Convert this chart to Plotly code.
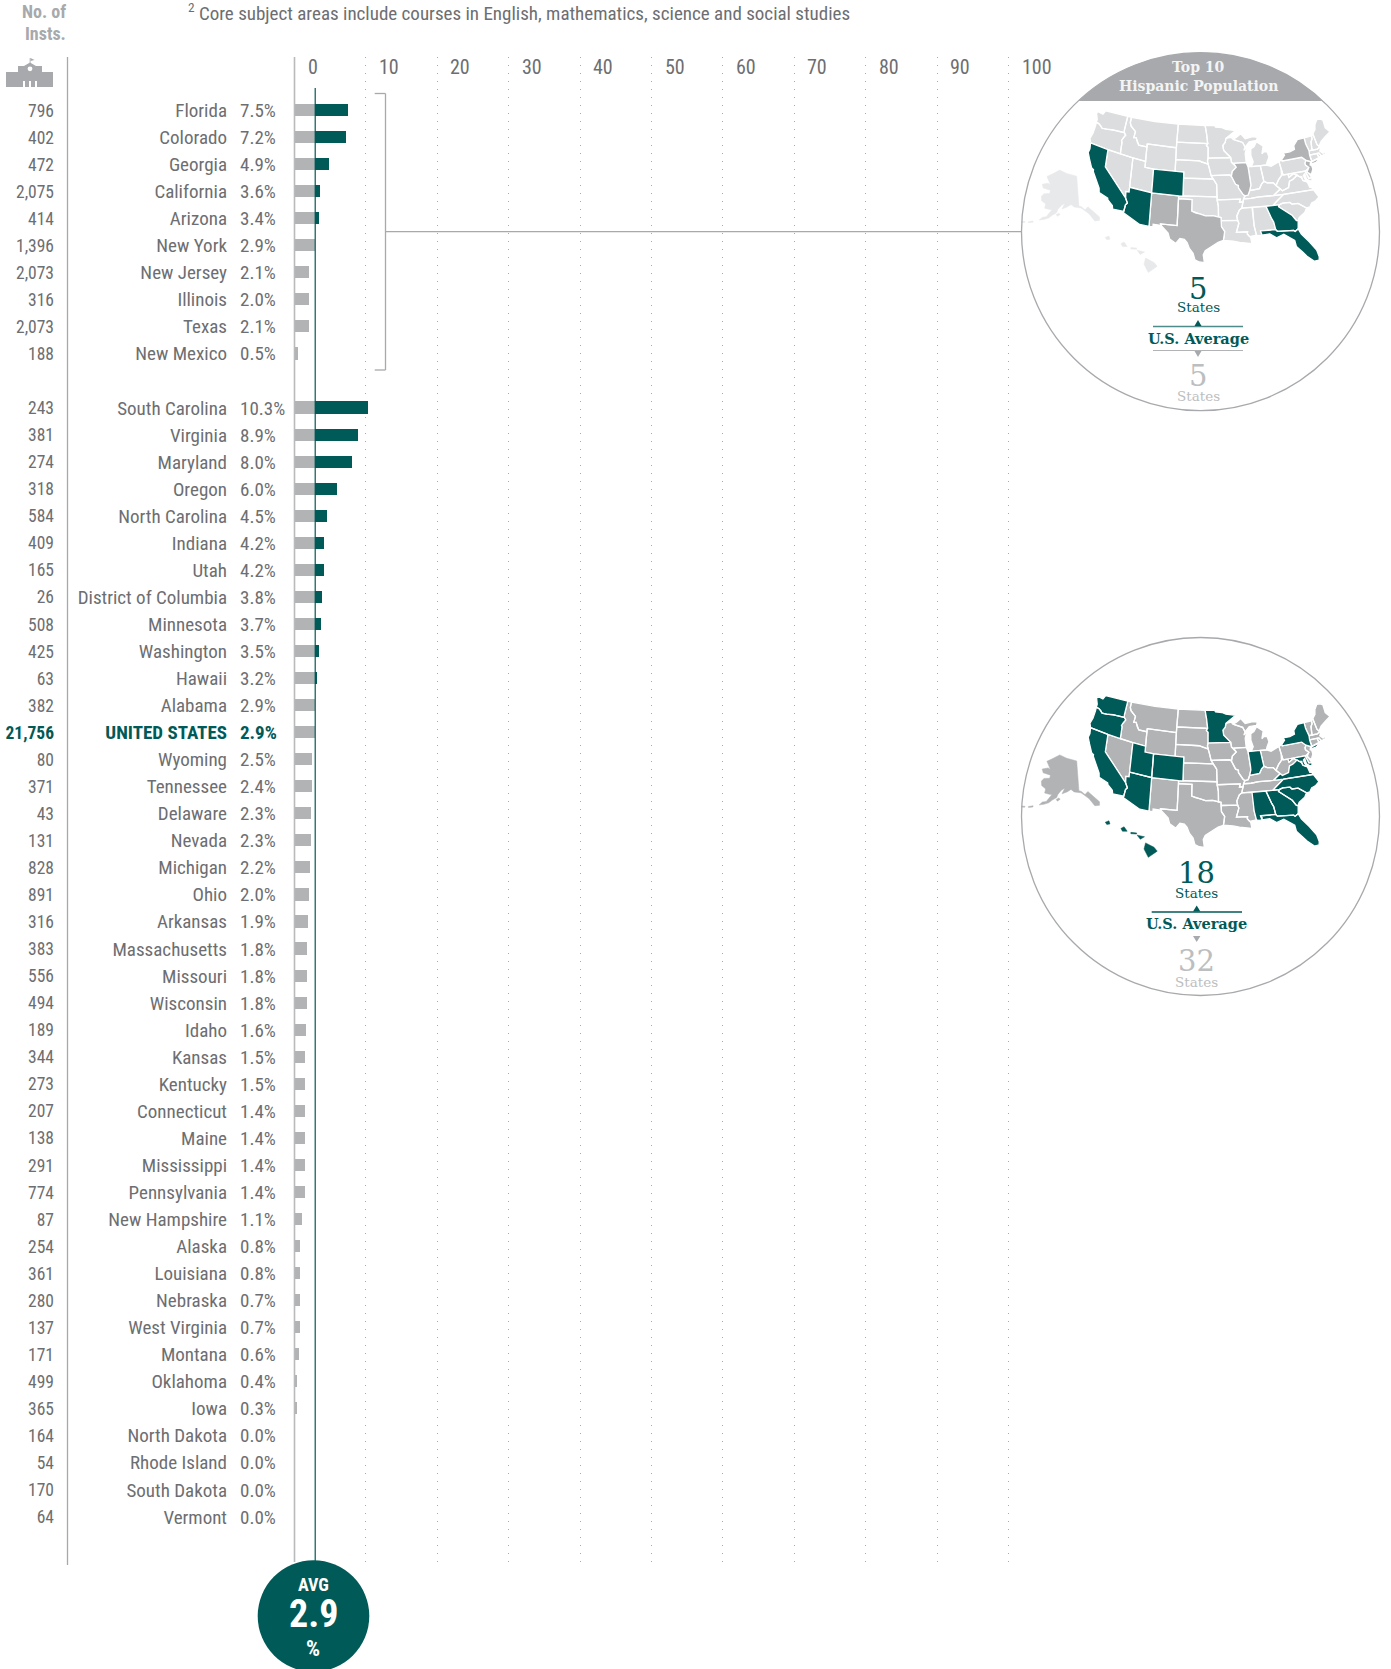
import math
import numpy as np
import plotly.graph_objects as go

# ---------------------------------------------------------------- data
top10_states = ["Florida", "Colorado", "Georgia", "California", "Arizona", "New York",
                "New Jersey", "Illinois", "Texas", "New Mexico"]
top10_values = [7.5, 7.2, 4.9, 3.6, 3.4, 2.9, 2.1, 2.0, 2.1, 0.5]
top10_insts = ["796", "402", "472", "2,075", "414", "1,396", "2,073", "316", "2,073", "188"]

other_states = ["South Carolina", "Virginia", "Maryland", "Oregon", "North Carolina", "Indiana", "Utah",
                "District of Columbia", "Minnesota", "Washington", "Hawaii", "Alabama", "UNITED STATES",
                "Wyoming", "Tennessee", "Delaware", "Nevada", "Michigan", "Ohio", "Arkansas",
                "Massachusetts", "Missouri", "Wisconsin", "Idaho", "Kansas", "Kentucky", "Connecticut",
                "Maine", "Mississippi", "Pennsylvania", "New Hampshire", "Alaska", "Louisiana", "Nebraska",
                "West Virginia", "Montana", "Oklahoma", "Iowa", "North Dakota", "Rhode Island",
                "South Dakota", "Vermont"]
other_values = [10.3, 8.9, 8.0, 6.0, 4.5, 4.2, 4.2, 3.8, 3.7, 3.5, 3.2, 2.9, 2.9, 2.5, 2.4, 2.3, 2.3, 2.2,
                2.0, 1.9, 1.8, 1.8, 1.8, 1.6, 1.5, 1.5, 1.4, 1.4, 1.4, 1.4, 1.1, 0.8, 0.8, 0.7, 0.7, 0.6,
                0.4, 0.3, 0.0, 0.0, 0.0, 0.0]
other_insts = ["243", "381", "274", "318", "584", "409", "165", "26", "508", "425", "63", "382", "21,756",
               "80", "371", "43", "131", "828", "891", "316", "383", "556", "494", "189", "344", "273", "207",
               "138", "291", "774", "87", "254", "361", "280", "137", "171", "499", "365", "164", "54", "170", "64"]
axis_ticks = [0, 10, 20, 30, 40, 50, 60, 70, 80, 90, 100]
avg_value = 2.9

map1_teal = ["CA", "AZ", "CO", "GA", "FL"]
map1_grey = ["NY", "NJ", "IL", "TX", "NM"]
map2_teal = ["WA", "OR", "CA", "UT", "CO", "AZ", "MN", "IN", "NY", "VA", "MD", "DC", "NC", "SC", "GA", "AL", "FL", "HI"]

# simplified state outlines, lon/lat
STATES = {
 "WA": [[(-124.7,48.4),(-123.2,48.2),(-122.8,49),(-117.03,49),(-117.04,46.42),(-116.92,45.99),(-119,45.93),(-119.6,45.92),(-121.2,45.65),(-122.3,45.55),(-122.8,45.9),(-123.4,46.2),(-124.05,46.27),(-124.1,46.9),(-124.7,47.9)]],
 "OR": [[(-124.05,46.27),(-123.4,46.2),(-122.8,45.9),(-122.3,45.55),(-121.2,45.65),(-119.6,45.92),(-119,45.93),(-116.92,45.99),(-116.46,45.6),(-116.85,45),(-117.2,44.4),(-117.03,44.2),(-117.03,42),(-120,42),(-124.2,42),(-124.55,42.85),(-124.1,44),(-123.95,45.5)]],
 "CA": [[(-124.2,42),(-120,42),(-120,39),(-114.63,35),(-114.14,34.3),(-114.5,33.9),(-114.72,32.72),(-117.12,32.53),(-117.3,33.1),(-118.4,33.75),(-118.5,34.03),(-119.2,34.15),(-120.5,34.45),(-120.65,35.15),(-121.9,36.6),(-122.5,37.5),(-122.5,37.8),(-123,38),(-123.8,39.3),(-124.35,40.3),(-124.1,41)]],
 "NV": [[(-120,42),(-117.03,42),(-114.04,42),(-114.04,37),(-114.04,36.2),(-114.75,36.1),(-114.63,35),(-120,39)]],
 "ID": [[(-117.03,49),(-116.05,49),(-116.05,48),(-115.7,47.45),(-114.35,46.65),(-114.45,45.55),(-113.9,45.65),(-113.45,44.95),(-113,44.45),(-111.05,44.48),(-111.05,42),(-114.04,42),(-117.03,42),(-117.03,44.2),(-117.2,44.4),(-116.85,45),(-116.46,45.6),(-116.92,45.99),(-117.04,46.42)]],
 "MT": [[(-116.05,49),(-110,49),(-104.05,49),(-104.05,45.94),(-104.05,45),(-111.05,45),(-111.05,44.48),(-113,44.45),(-113.45,44.95),(-113.9,45.65),(-114.45,45.55),(-114.35,46.65),(-115.7,47.45),(-116.05,48)]],
 "WY": [[(-111.05,45),(-104.05,45),(-104.05,43),(-104.05,41),(-109.05,41),(-111.05,41),(-111.05,42),(-111.05,44.48)]],
 "UT": [[(-114.04,42),(-111.05,42),(-111.05,41),(-109.05,41),(-109.05,37),(-114.04,37)]],
 "CO": [[(-109.05,41),(-104.05,41),(-102.05,41),(-102.05,40),(-102.05,37),(-103,37),(-109.05,37)]],
 "AZ": [[(-114.04,37),(-109.05,37),(-109.05,31.33),(-111.07,31.33),(-114.8,32.5),(-114.72,32.72),(-114.5,33.9),(-114.14,34.3),(-114.63,35),(-114.75,36.1),(-114.04,36.2)]],
 "NM": [[(-109.05,37),(-103,37),(-103,36.5),(-103.05,32),(-106.62,32),(-106.53,31.78),(-108.2,31.78),(-108.2,31.33),(-109.05,31.33)]],
 "ND": [[(-104.05,49),(-97.23,49),(-96.85,47.6),(-96.56,45.94),(-104.05,45.94)]],
 "SD": [[(-104.05,45.94),(-96.56,45.94),(-96.85,45.6),(-96.45,45.3),(-96.45,43.5),(-96.6,43),(-96.45,42.49),(-97.9,42.8),(-98.5,43),(-104.05,43),(-104.05,45)]],
 "NE": [[(-104.05,43),(-98.5,43),(-97.9,42.8),(-96.45,42.49),(-96.1,41.7),(-95.9,41),(-95.77,40.58),(-95.31,40),(-102.05,40),(-102.05,41),(-104.05,41)]],
 "KS": [[(-102.05,40),(-95.31,40),(-94.62,39.1),(-94.62,37),(-103,37),(-102.05,37)]],
 "OK": [[(-103,37),(-94.62,37),(-94.62,36.5),(-94.43,35.4),(-94.48,33.64),(-95.5,33.9),(-97,33.85),(-98.1,34.13),(-99.2,34.3),(-100,34.56),(-100,36.5),(-103,36.5)]],
 "TX": [[(-103,36.5),(-100,36.5),(-100,34.56),(-99.2,34.3),(-98.1,34.13),(-97,33.85),(-95.5,33.9),(-94.48,33.64),(-94.04,33.55),(-94.04,33.02),(-94.04,31.99),(-93.55,31.2),(-93.7,30.3),(-93.85,29.7),(-94.7,29.4),(-95.6,28.75),(-97,28),(-97.4,27.3),(-97.15,25.96),(-98.2,26.06),(-99.1,26.4),(-99.5,27.5),(-100.3,28.3),(-100.8,29.25),(-101.4,29.77),(-102.35,29.87),(-102.9,29.25),(-103.2,29),(-104.5,29.65),(-104.9,30.6),(-106.53,31.78),(-106.62,32),(-103.05,32)]],
 "MN": [[(-97.23,49),(-95.15,49),(-95.15,49.38),(-94.6,48.72),(-93,48.6),(-92,48.3),(-89.6,48),(-91.5,47),(-92.1,46.75),(-92.3,46.1),(-92.9,45.6),(-92.75,44.75),(-91.2,43.5),(-96.45,43.5),(-96.45,45.3),(-96.85,45.6),(-96.56,45.94),(-96.85,47.6)]],
 "IA": [[(-96.45,43.5),(-91.2,43.5),(-91.1,42.7),(-90.15,41.85),(-91.1,41.2),(-91.4,40.38),(-91.73,40.61),(-95.77,40.58),(-95.9,41),(-96.1,41.7),(-96.45,42.49),(-96.6,43)]],
 "MO": [[(-95.77,40.58),(-91.73,40.61),(-91.4,40.38),(-90.7,39),(-90.15,38.8),(-90.2,38.4),(-89.5,37.3),(-89.15,37),(-89.5,36.5),(-89.7,36),(-90.37,36),(-90.15,36.5),(-94.62,36.5),(-94.62,37),(-94.62,39.1),(-95.31,40)]],
 "AR": [[(-94.62,36.5),(-90.15,36.5),(-90.37,36),(-89.7,36),(-90.1,35),(-90.6,34.7),(-91.2,33.7),(-91.15,33),(-94.04,33.02),(-94.04,33.55),(-94.48,33.64),(-94.43,35.4)]],
 "LA": [[(-94.04,33.02),(-91.15,33),(-91,32.5),(-91.6,31),(-89.75,31),(-89.85,30.65),(-89.55,30.18),(-89.4,30),(-89.4,29),(-90.2,29.1),(-91.3,29.3),(-92.3,29.55),(-93.85,29.7),(-93.7,30.3),(-93.55,31.2),(-94.04,31.99)]],
 "MS": [[(-91.15,33),(-91.2,33.7),(-90.6,34.7),(-90.1,35),(-88.2,35),(-88.1,34.9),(-88.47,31.9),(-88.4,30.35),(-89.55,30.18),(-89.85,30.65),(-89.75,31),(-91.6,31),(-91,32.5)]],
 "AL": [[(-88.2,35),(-85.6,34.98),(-85.18,32.87),(-85,32.3),(-85.05,31),(-87.6,31),(-87.4,30.65),(-87.5,30.3),(-88,30.25),(-88.4,30.35),(-88.47,31.9),(-88.1,34.9)]],
 "TN": [[(-90.1,35),(-88.2,35),(-85.6,34.98),(-84.32,34.99),(-83.5,35.57),(-82.6,36.03),(-81.68,36.59),(-83.68,36.6),(-86.5,36.65),(-88.07,36.5),(-89.5,36.5),(-89.7,36)]],
 "KY": [[(-89.5,36.5),(-88.07,36.5),(-86.5,36.65),(-83.68,36.6),(-81.97,37.54),(-82.6,38.17),(-83,38.7),(-84.2,38.8),(-84.8,39.1),(-85.4,38.7),(-86,38),(-87,37.9),(-88.05,37.8),(-88.5,37.1),(-89.15,37)]],
 "IL": [[(-90.64,42.5),(-87.8,42.5),(-87.53,41.75),(-87.53,39.35),(-87.6,38.7),(-88.05,37.8),(-88.5,37.1),(-89.15,37),(-89.5,37.3),(-90.2,38.4),(-90.15,38.8),(-90.7,39),(-91.4,40.38),(-91.1,41.2),(-90.15,41.85)]],
 "WI": [[(-92.1,46.75),(-90.8,46.9),(-90.4,46.55),(-88.1,45.9),(-87.6,45.1),(-88,44.55),(-87.1,45.25),(-87.75,44),(-87.8,42.5),(-90.64,42.5),(-91.1,42.7),(-91.2,43.5),(-92.75,44.75),(-92.9,45.6),(-92.3,46.1)]],
 "IN": [[(-87.53,41.75),(-86.8,41.76),(-84.8,41.76),(-84.8,39.1),(-85.4,38.7),(-86,38),(-87,37.9),(-88.05,37.8),(-87.6,38.7),(-87.53,39.35)]],
 "OH": [[(-84.8,41.76),(-83.45,41.73),(-82.5,41.4),(-81.2,41.8),(-80.52,41.98),(-80.52,40.64),(-80.85,39.7),(-81.7,39.1),(-82.2,38.6),(-82.6,38.17),(-83,38.7),(-84.2,38.8),(-84.8,39.1)]],
 "MI": [[(-86.8,41.76),(-84.8,41.76),(-83.45,41.73),(-83.1,42.25),(-82.45,43),(-82.6,43.9),(-83.4,43.95),(-83.9,43.65),(-83.3,44.9),(-84.75,45.78),(-85.5,45),(-86.3,44.7),(-86.5,43.6),(-86.2,42.5)],
        [(-90.4,46.55),(-88.1,45.9),(-87.6,45.1),(-86.5,45.9),(-84.7,46),(-84.4,46.5),(-85.5,46.7),(-87.4,46.5),(-88.4,47.4),(-89.5,46.85)]],
 "WV": [[(-80.52,40.64),(-80.52,39.72),(-79.48,39.72),(-79.48,39.2),(-78.35,39.65),(-77.72,39.32),(-78.35,39),(-78.9,38.75),(-79.65,38.58),(-80.3,37.55),(-81.68,37.2),(-81.97,37.54),(-82.6,38.17),(-82.2,38.6),(-81.7,39.1),(-80.85,39.7)]],
 "VA": [[(-83.68,36.6),(-81.68,36.59),(-75.87,36.55),(-76,36.95),(-76.3,37),(-76.3,37.9),(-77,38.3),(-77.04,38.8),(-77.5,39.1),(-77.72,39.32),(-78.35,39),(-78.9,38.75),(-79.65,38.58),(-80.3,37.55),(-81.68,37.2),(-81.97,37.54)],
        [(-75.95,37.15),(-75.65,37.95),(-75.25,38.03)]],
 "NC": [[(-84.32,34.99),(-83.11,35),(-82.4,35.2),(-81.04,35.15),(-80.8,34.82),(-79.67,34.8),(-78.55,33.86),(-77.9,33.93),(-77.3,34.5),(-76.5,34.7),(-75.5,35.25),(-75.87,36.55),(-81.68,36.59),(-82.6,36.03),(-83.5,35.57)]],
 "SC": [[(-83.11,35),(-82.4,35.2),(-81.04,35.15),(-80.8,34.82),(-79.67,34.8),(-78.55,33.86),(-79.2,33.2),(-80.5,32.5),(-80.87,32.03),(-81.15,32.1),(-81.5,33),(-82,33.5),(-83.35,34.7)]],
 "GA": [[(-85.6,34.98),(-84.32,34.99),(-83.11,35),(-83.35,34.7),(-82,33.5),(-81.5,33),(-81.15,32.1),(-80.87,32.03),(-81.4,30.72),(-82.05,30.36),(-82.2,30.57),(-84.86,30.7),(-85.05,31),(-85,32.3),(-85.18,32.87)]],
 "FL": [[(-87.5,30.3),(-87.6,31),(-85.05,31),(-84.86,30.7),(-82.2,30.57),(-82.05,30.36),(-81.4,30.72),(-81.25,29.8),(-80.55,28.4),(-80.05,26.9),(-80.15,25.75),(-80.4,25.2),(-81.1,25.13),(-81.8,26.1),(-82.2,26.9),(-82.75,27.9),(-82.65,28.9),(-83.4,29.6),(-84,30.1),(-85.3,29.65),(-86.2,30.4)]],
 "PA": [[(-80.52,41.98),(-79.76,42.25),(-79.76,42),(-75.35,42),(-74.7,41.36),(-75.13,40.98),(-75.2,40.65),(-74.73,40.15),(-75.4,39.8),(-75.79,39.72),(-79.48,39.72),(-80.52,39.72),(-80.52,40.64)]],
 "NY": [[(-79.76,42.25),(-78.9,42.85),(-79.05,43.27),(-77.5,43.25),(-76.3,43.5),(-76.2,44.1),(-75,44.98),(-73.34,45.01),(-73.4,44),(-73.25,42.75),(-73.5,42.05),(-73.5,41.3),(-73.65,41),(-73.9,41),(-74.7,41.36),(-75.35,42),(-79.76,42)],
        [(-74,40.6),(-73.7,40.9),(-72.3,41.15),(-71.9,41.05),(-72.8,40.7)]],
 "NJ": [[(-74.7,41.36),(-73.9,41),(-74.25,40.5),(-74,40.4),(-74.1,39.75),(-74.9,38.95),(-75.5,39.5),(-74.73,40.15),(-75.2,40.65),(-75.13,40.98)]],
 "DE": [[(-75.79,39.72),(-75.4,39.8),(-75.05,38.45),(-75.7,38.46)]],
 "MD": [[(-79.48,39.72),(-75.79,39.72),(-75.7,38.46),(-75.05,38.45),(-75.25,38.03),(-75.65,37.95),(-76.2,38.4),(-76.1,39.3),(-76.5,39.1),(-76.5,38.5),(-76.3,37.95),(-77,38.3),(-77.04,38.8),(-77.5,39.1),(-77.72,39.32),(-78.35,39.65),(-79.48,39.2)]],
 "DC": [[(-77.12,38.93),(-77.04,39),(-76.91,38.89),(-77.04,38.79)]],
 "CT": [[(-73.5,42.05),(-71.8,42.02),(-71.8,41.32),(-73.65,41),(-73.5,41.3)]],
 "RI": [[(-71.8,42.02),(-71.38,42.02),(-71.15,41.5),(-71.8,41.32)]],
 "MA": [[(-73.5,42.05),(-73.25,42.75),(-72.46,42.73),(-71.3,42.7),(-70.8,42.87),(-70.6,42.65),(-71,42.3),(-70.55,41.8),(-70.1,42.05),(-70,41.65),(-70.7,41.55),(-71.15,41.5),(-71.38,42.02),(-71.8,42.02)]],
 "VT": [[(-73.34,45.01),(-71.5,45.01),(-71.6,44.5),(-72.05,44.1),(-72.45,43),(-72.46,42.73),(-73.25,42.75),(-73.4,44)]],
 "NH": [[(-71.5,45.01),(-71.08,45.3),(-70.98,43.4),(-70.7,43.07),(-70.8,42.87),(-71.3,42.7),(-72.46,42.73),(-72.45,43),(-72.05,44.1),(-71.6,44.5)]],
 "ME": [[(-71.08,45.3),(-70.3,45.9),(-70,46.7),(-69.2,47.45),(-68.3,47.35),(-67.8,47.07),(-67.8,45.7),(-67,44.85),(-68.5,44.3),(-69.8,43.75),(-70.7,43.07),(-70.98,43.4)]],
 "AK": [[(-141,69.6),(-141,60.3),(-139.5,60),(-137.5,58.9),(-135.5,59.7),(-133.5,58.4),(-130,55.9),(-130.5,54.8),(-133,55),(-135.5,57.5),(-137,58.3),(-139.8,59.6),(-144,60),(-146,60.8),(-148.5,60),(-151.5,59.3),(-150,61.1),(-152,60.5),(-154,59),(-154.5,58),(-156.8,57),(-158.5,56),(-161,55.2),(-163.3,54.7),(-162,55.8),(-160,56.2),(-157.5,58.7),(-159,58.6),(-162,58.7),(-162,60),(-165,60.7),(-166,62),(-164.8,63),(-161,63.5),(-161,64.5),(-166.5,64.6),(-168.1,65.6),(-164,66.5),(-162,66.2),(-163.8,67.2),(-166.5,68.4),(-163,69.5),(-156.7,71.3),(-150,70.5),(-145,70)],
        [(-154.6,57.4),(-153.2,57.9),(-152.3,57.6),(-153.8,56.9)],
        [(-168.5,53.2),(-166.3,53.9),(-166.2,53.5),(-168.3,52.95)],
        [(-172.5,52.4),(-170.2,52.9),(-170.2,52.6),(-172.3,52.15)]],
 "HI": [[(-155.9,20.25),(-155.1,19.85),(-154.8,19.5),(-155.65,18.95),(-156.05,19.7)],
        [(-156.7,20.95),(-156,20.8),(-156.4,20.58)],
        [(-157.3,21.2),(-156.75,21.15),(-156.75,21.05),(-157.3,21.08)],
        [(-158.25,21.55),(-157.95,21.7),(-157.65,21.3),(-158.1,21.3)],
        [(-159.75,22.1),(-159.4,22.23),(-159.3,21.95),(-159.6,21.9)]],
}

# ---------------------------------------------------------------- layout constants (pixels)
W, H = 1391, 1669
TEAL, BAR_GREY, MAP_GREY, MAP_LIGHT, MAP_PALE = "#005a57", "#b1b3b5", "#b1b3b5", "#dcddde", "#e8e9ea"
TEXT, HEAD, LINE = "#6d6e71", "#a7a9ac", "#a7a9ac"
NARROW = "Roboto Condensed, Roboto, sans-serif"
SLAB = "DejaVu Serif, serif"
X0, PX_PER = 294.5, 7.14            # x pixel of value 0, pixels per percent
ROW0, ROW_H = 110.0, 27.05          # y pixel of first row, pixels per row
TOP, BOTTOM = 57.0, 1563.0
TEXT_DROP = 2.2                     # row labels sit slightly below the bar centre


def px(x):
    return x / W


def py(y):
    return 1 - y / H


def val_at(x):
    return (x - X0) / PX_PER


categories = top10_states + [" "] + other_states
insts = top10_insts + other_insts
states = top10_states + other_states
values = top10_values + other_values
inside_max = [min(v, avg_value) for v in values]
beyond = [max(v - avg_value, 0) for v in values]


# ---------------------------------------------------------------- projection
def conic(lon, lat, lon0, lat0, p1, p2):
    s1, s2 = math.sin(math.radians(p1)), math.sin(math.radians(p2))
    n = (s1 + s2) / 2
    c = math.cos(math.radians(p1)) ** 2 + 2 * n * s1
    rho = lambda la: math.sqrt(c - 2 * n * math.sin(math.radians(la))) / n
    th = math.radians(n * (lon - lon0))
    return rho(lat) * math.sin(th), rho(lat0) - rho(lat) * math.cos(th)


def project(code, lon, lat):
    """pixels relative to the lower-48 map origin; y grows downwards"""
    if code == "AK":
        u, v = conic(lon, lat, -146, 58.5, 55, 65)
        return -139 + 184 * u, 18 - 184 * v
    if code == "HI":
        u, v = conic(lon, lat, -157, 19.9, 8, 18)
        return -76 + 640 * u, 68 - 640 * v
    u, v = conic(lon, lat, -96, 37.5, 29.5, 45.5)
    x, y = 340 * u, -340 * v
    # the source map is flatter than a true Albers: ease the tilt at the south-east and south-west
    if lon > -96:
        x += (lon + 96) / 15 * max(45 - lat, 0) ** 1.5 * 0.27
    else:
        x += (-96 - lon) / 21 * max(45 - lat, 0) * 0.55
        y -= 6 * min(max((-110 - lon) / 14, 0), 1) * min(max((49 - lat) / 7, 0), 1)
    return x, y


def outlines(codes):
    xs, ys = [], []
    for code in codes:
        for poly_pts in STATES[code]:
            pts = [project(code, lo, la) for lo, la in poly_pts]
            pts.append(pts[0])
            xs += [p[0] for p in pts] + [None]
            ys += [p[1] for p in pts] + [None]
    return xs, ys


fig = go.Figure()

# ---------------------------------------------------------------- bars
fig.add_trace(go.Bar(y=states, x=inside_max, orientation="h", width=0.45, marker=dict(color=BAR_GREY, line_width=0),
                     xaxis="x", yaxis="y", hoverinfo="skip"))
fig.add_trace(go.Bar(y=states, x=beyond, orientation="h", width=0.45, marker=dict(color=TEAL, line_width=0),
                     xaxis="x", yaxis="y", hoverinfo="skip"))


def text_col(x, labels, pos, size):
    colors = [TEAL if s == "UNITED STATES" else TEXT for s in states]
    weights = [700 if s == "UNITED STATES" else 400 for s in states]
    fig.add_trace(go.Scatter(
        x=[val_at(x)] * len(labels), y=states, mode="text", text=labels, textposition=pos,
        textfont=dict(family=NARROW, size=size, color=colors, weight=weights),
        xaxis="x", yaxis="y4", hoverinfo="skip", cliponaxis=False))


text_col(54.0, insts, "middle left", 17.5)
text_col(227.0, states, "middle left", 19)
text_col(240.0, [f"{v:.1f}%" for v in values], "middle right", 19)

# ---------------------------------------------------------------- maps
map_box = (1021, 1379)
map_ox, map_oy = 1210, 194
all_codes = list(STATES)
INSETS = ("AK", "HI")


def add_map(ax, teal, grey, base, pale):
    rest = [c for c in all_codes if c not in teal and c not in grey and c not in pale]
    for codes, color in [(rest, base), (pale, MAP_PALE), (grey, MAP_GREY), (teal, TEAL)]:
        for group, edge, width in (([c for c in codes if c not in INSETS], "white", 1.3),
                                   ([c for c in codes if c in INSETS], color, 0.5)):
            if not group:
                continue
            xs, ys = outlines(group)
            fig.add_trace(go.Scatter(x=xs, y=ys, mode="lines", fill="toself", fillcolor=color,
                                     line=dict(color=edge, width=width), xaxis=f"x{ax}", yaxis=f"y{ax}",
                                     hoverinfo="skip"))


add_map(2, map1_teal, map1_grey, MAP_LIGHT, list(INSETS))
add_map(3, map2_teal, [], MAP_GREY, [])

# ---------------------------------------------------------------- shapes
shapes = []


def seg(x0, y0, x1, y1, color=LINE, width=1.3):
    shapes.append(dict(type="line", xref="paper", yref="paper", x0=px(x0), x1=px(x1), y0=py(y0), y1=py(y1),
                       line=dict(color=color, width=width), layer="above"))


def poly(points, color, layer="above"):
    path = "M" + "L".join(f"{px(x):.5f},{py(y):.5f}" for x, y in points) + "Z"
    shapes.append(dict(type="path", xref="paper", yref="paper", path=path, fillcolor=color,
                       line=dict(width=0), layer=layer))


def circle(cx, cy, r, fill=None, line=None, width=1.3):
    shapes.append(dict(type="circle", xref="paper", yref="paper", x0=px(cx - r), x1=px(cx + r),
                       y0=py(cy + r), y1=py(cy - r), fillcolor=fill or "rgba(0,0,0,0)",
                       line=dict(color=line or "rgba(0,0,0,0)", width=width if line else 0), layer="above"))


CX, CY1, CY2, R = 1200.5, 231.7, 816.5, 179.0
circle(CX, CY1, R, line=LINE)
circle(CX, CY2, R, line=LINE)

# header cap of first circle
chord_y = 101.0
half_angle = math.acos((CY1 - chord_y) / R)
cap = [(CX + R * math.sin(a), CY1 - R * math.cos(a)) for a in np.linspace(-half_angle, half_angle, 60)]
poly(cap, HEAD)

# vertical rules
seg(67.5, TOP, 67.5, 1565, LINE, 1.3)
seg(X0, TOP, X0, 1562, "#b8babc", 1.6)
shapes.append(dict(type="line", xref="x", yref="paper", x0=avg_value, x1=avg_value, y0=py(88), y1=py(1562),
                   line=dict(color=TEAL, width=1.2), layer="above"))

# bracket for top 10 group
seg(374.7, 93.5, 385.5, 93.5)
seg(385.5, 93.5, 385.5, 370)
seg(385.5, 370, 374.7, 370)
seg(385.5, 231.7, CX - R, 231.7)

# average badge
circle(313.5, 1616, 55.8, fill=TEAL)

# building icon
poly([(6, 72), (18, 72), (18, 66), (24, 66), (30, 62.5), (36, 66), (42, 66), (42, 72), (53, 72), (53, 87), (6, 87)], HEAD)
poly([(29.7, 58), (30.5, 58), (30.5, 64), (29.7, 64)], HEAD)
poly([(30.5, 58), (34.5, 60), (30.5, 61)], HEAD)
circle(30, 68.8, 2.4, fill="white")
for gap in (23, 29, 35):
    poly([(gap, 81), (gap + 2, 81), (gap + 2, 87), (gap, 87)], "white")

# average arrows / rules in the circles
seg(1153, 326.5, 1243, 326.5, "#4d8c8a", 1.3)
seg(1153, 350.5, 1243, 350.5, "#b1b3b5", 1.2)
poly([(1194.5, 326), (1198, 320), (1201.5, 326)], TEAL)
poly([(1194.5, 351), (1201.5, 351), (1198, 357)], HEAD)
seg(1151.7, 912, 1242, 912, TEAL, 1.3)
poly([(1193, 911.5), (1196.7, 905.5), (1200.4, 911.5)], TEAL)
poly([(1193, 936), (1200.4, 936), (1196.7, 942)], HEAD)

# ---------------------------------------------------------------- annotations
ann = []


def note(x, y, text, size, color, family=NARROW, anchor="center", bold=False):
    ann.append(dict(xref="paper", yref="paper", x=px(x), y=py(y), text=text, showarrow=False, xanchor=anchor,
                    yanchor="middle", align=anchor, font=dict(family=family, size=size, color=color,
                                                              weight=700 if bold else 400)))


for t in axis_ticks:
    ann.append(dict(xref="x", yref="paper", x=t, y=py(67), xshift=11, text=str(t), showarrow=False, xanchor="left",
                    yanchor="middle", font=dict(family=NARROW, size=20, color=TEXT)))

note(68, 11.5, "No. of", 18, HEAD, anchor="right", bold=True)
note(68, 34, "Insts.", 18, HEAD, anchor="right", bold=True)
note(186, 12.5, "<sup>2</sup> Core subject areas include courses in English, mathematics, science and social studies",
     19, TEXT, anchor="left")

note(1198, 67, "Top 10", 14, "#f4f4f4", SLAB, bold=True)
note(1198, 86, "Hispanic Population", 14, "#f4f4f4", SLAB, bold=True)
note(1198, 289, "5", 29, TEAL, SLAB)
note(1198, 307, "States", 13.5, TEAL, SLAB)
note(1198, 338, "U.S. Average", 14.5, TEAL, SLAB, bold=True)
note(1198, 376, "5", 29, "#bcbec0", SLAB)
note(1198, 396, "States", 13.5, "#bcbec0", SLAB)

note(1196.7, 873, "18", 29, TEAL, SLAB)
note(1196.7, 893, "States", 13.5, TEAL, SLAB)
note(1196.7, 923, "U.S. Average", 14.5, TEAL, SLAB, bold=True)
note(1196.7, 961, "32", 29, "#bcbec0", SLAB)
note(1196.7, 982, "States", 13.5, "#bcbec0", SLAB)

note(313, 1584, "AVG", 18, "white", bold=True)
note(313, 1614, "2.9", 38, "white", bold=True)
note(313, 1648, "%", 22, "white", bold=True)

# ---------------------------------------------------------------- layout
hidden = dict(visible=False, fixedrange=True)


def map_axes(cy):
    top, bot = cy - 180, cy + 180
    x_ax = dict(hidden, domain=[px(map_box[0]), px(map_box[1])], range=[map_box[0] - map_ox, map_box[1] - map_ox])
    oy = map_oy + (cy - CY1)
    y_ax = dict(hidden, domain=[py(bot), py(top)], range=[bot - oy, top - oy])
    return x_ax, y_ax


x2, y2 = map_axes(CY1)
x3, y3 = map_axes(CY2)
x2["anchor"], y2["anchor"], x3["anchor"], y3["anchor"] = "y2", "x2", "y3", "x3"

row_range = [(BOTTOM - ROW0) / ROW_H, (TOP - ROW0) / ROW_H]
row_axis = dict(domain=[py(BOTTOM), py(TOP)], type="category", categoryorder="array", categoryarray=categories,
                showgrid=False, showticklabels=False, ticks="", zeroline=False, showline=False, fixedrange=True)

fig.update_layout(
    width=W, height=H, margin=dict(l=0, r=0, t=0, b=0, pad=0), paper_bgcolor="white", plot_bgcolor="rgba(0,0,0,0)",
    barmode="stack", showlegend=False, shapes=shapes, annotations=ann,
    xaxis=dict(domain=[0, 1], range=[val_at(0), val_at(W)], tickvals=axis_ticks[1:], showticklabels=False, ticks="",
               showgrid=True, gridcolor="#a9abad", griddash="1px,7px", gridwidth=1, zeroline=False, showline=False,
               fixedrange=True),
    yaxis=dict(row_axis, range=row_range),
    yaxis4=dict(row_axis, overlaying="y", anchor="x", visible=False,
                range=[r - TEXT_DROP / ROW_H for r in row_range]),
    xaxis2=x2, yaxis2=y2, xaxis3=x3, yaxis3=y3,
)

fig.write_html("out.html", config={"displayModeBar": False},
               post_script="document.body.style.margin='0';document.body.style.overflow='hidden';")
